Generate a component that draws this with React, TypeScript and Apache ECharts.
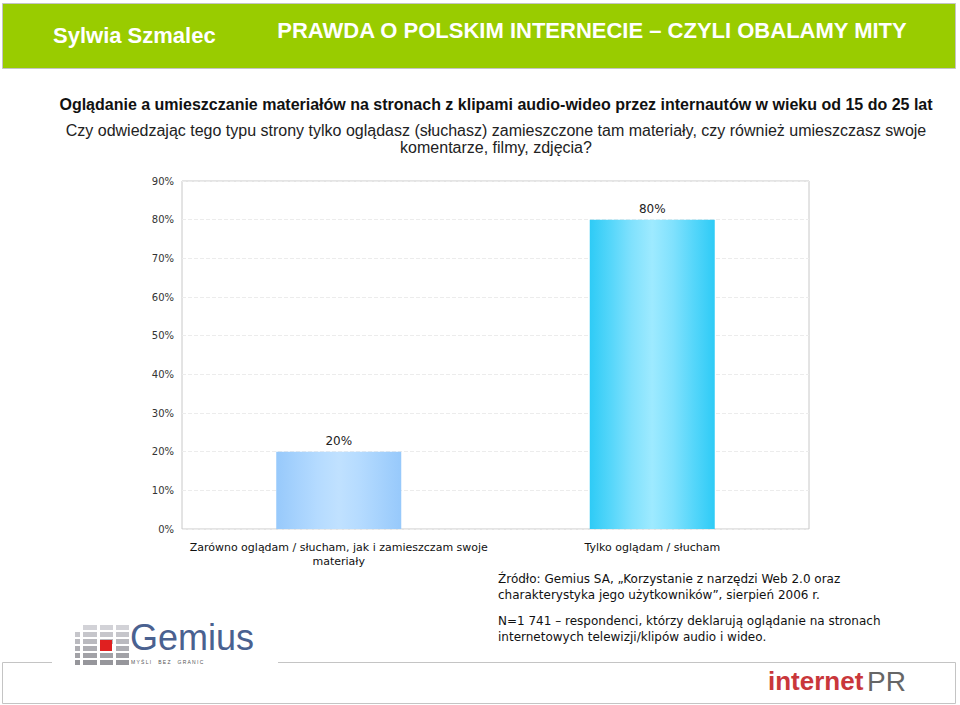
import React, { useEffect, useRef } from "react";
import * as echarts from "echarts";

const categories = [
  "Zarówno oglądam / słucham, jak i zamieszczam swoje\nmateriały",
  "Tylko oglądam / słucham",
];
const values = [20, 80];
const yMin = 0;
const yMax = 90;
const yStep = 10;

const headerLeft = "Sylwia Szmalec";
const headerRight = "PRAWDA O POLSKIM INTERNECIE – CZYLI OBALAMY MITY";
const titleText =
  "Oglądanie a umieszczanie materiałów na stronach z klipami audio-wideo przez internautów w wieku od 15 do 25 lat";
const subtitleLines = [
  "Czy odwiedzając tego typu strony tylko oglądasz (słuchasz) zamieszczone tam materiały, czy również umieszczasz swoje",
  "komentarze, filmy, zdjęcia?",
];
const sourceLines = [
  "Źródło: Gemius SA, „Korzystanie z narzędzi Web 2.0 oraz",
  "charakterystyka jego użytkowników”, sierpień 2006 r.",
];
const noteLines = [
  "N=1 741 – respondenci, którzy deklarują oglądanie na stronach",
  "internetowych telewizji/klipów audio i wideo.",
];

const barGradients = [
  ["#97c9fb", "#a6d2fd", "#b5dbff", "#c0e1ff", "#b5dbff", "#a6d2fd", "#97c9fb"],
  ["#2ecbf6", "#55d6fa", "#80e1fd", "#9eeaff", "#80e1fd", "#55d6fa", "#2ecbf6"],
];

function gradient(cols: string[]) {
  return new echarts.graphic.LinearGradient(
    0,
    0,
    1,
    0,
    cols.map((c, i) => ({ offset: i / (cols.length - 1), color: c }))
  );
}

function gemiusBlocks() {
  const els: any[] = [];
  const cols = [
    { x: 75, w: 5 },
    { x: 83, w: 14 },
    { x: 100, w: 13 },
    { x: 116, w: 13 },
  ];
  const rows = [625, 632, 639, 646, 653, 660];
  rows.forEach((y, ri) => {
    cols.forEach((c, ci) => {
      if (ci === 0 && ri === 0) return;
      if (ci === 2 && ri === 3) return;
      const shade = 150 + Math.round((5 - ri) * 12);
      els.push({
        type: "rect",
        shape: { x: c.x, y, width: c.w, height: 5 },
        style: { fill: `rgb(${shade},${shade},${shade + 5})` },
      });
    });
  });
  els.push({
    type: "rect",
    shape: { x: 100, y: 640, width: 12, height: 11 },
    style: { fill: "#e02020" },
  });
  return els;
}

export default function App() {
  const ref = useRef<HTMLDivElement>(null);
  useEffect(() => {
    if (!ref.current) return;
    const chart = echarts.init(ref.current, undefined, { renderer: "svg" });
    const sans = "Liberation Sans, Arial, sans-serif";
    const verd = "DejaVu Sans, Verdana, sans-serif";
    const txt = (t: string, x: number, y: number, font: string, fill: string, align = "left") => ({
      type: "text",
      x,
      y,
      style: { text: t, fill, font, textAlign: align, textVerticalAlign: "middle" },
    });
    const graphics: any[] = [
      {
        type: "rect",
        shape: { x: 2.5, y: 3.5, width: 953, height: 65 },
        style: { fill: "#99cc00", stroke: "#c4c4c4", lineWidth: 1 },
      },
      txt(headerLeft, 53, 35, `bold 22px ${sans}`, "#ffffff"),
      txt(headerRight, 592, 30, `bold 22px ${sans}`, "#ffffff", "center"),
      txt(titleText, 496, 104, `bold 16px ${sans}`, "#111111", "center"),
      ...subtitleLines.map((t, i) =>
        txt(t, 496, 130 + i * 17, `16px ${sans}`, "#222222", "center")
      ),
      ...sourceLines.map((t, i) => txt(t, 498, 579 + i * 15.5, `12px ${verd}`, "#111111")),
      ...noteLines.map((t, i) => txt(t, 498, 621 + i * 15.5, `12px ${verd}`, "#111111")),
      // bottom frame
      {
        type: "polyline",
        shape: {
          points: [
            [52, 662.5],
            [2.5, 662.5],
            [2.5, 703.5],
            [955.5, 703.5],
            [955.5, 662.5],
            [278, 662.5],
          ],
        },
        style: { stroke: "#c4c4c4", lineWidth: 1, fill: "none" },
      },
      ...gemiusBlocks(),
      txt("Gemius", 130, 637, `36px ${sans}`, "#4a6190"),
      txt("M Y Ś L I     B E Z     G R A N I C", 131, 662, `5px ${sans}`, "#555555"),
      txt("internet", 768, 681, `bold 26px ${sans}`, "#c9373b"),
      txt("PR", 867, 681, `28px ${sans}`, "#666666"),
    ];

    chart.setOption({
      animation: false,
      backgroundColor: "#ffffff",
      textStyle: { fontFamily: verd },
      grid: {
        left: 182,
        right: 151,
        top: 181,
        bottom: 176,
        show: true,
        borderColor: "#c8c8c8",
        borderWidth: 1,
        containLabel: false,
      },
      xAxis: {
        type: "category",
        data: categories,
        axisLine: { show: false },
        axisTick: { show: false },
        axisLabel: {
          interval: 0,
          fontSize: 11,
          color: "#111111",
          fontFamily: verd,
          margin: 11,
          lineHeight: 14,
        },
      },
      yAxis: {
        type: "value",
        min: yMin,
        max: yMax,
        interval: yStep,
        axisLine: { show: false },
        axisTick: { show: false },
        axisLabel: {
          formatter: "{value}%",
          fontSize: 10,
          color: "#333333",
          fontFamily: verd,
          margin: 8,
        },
        splitLine: {
          show: true,
          lineStyle: { type: "dashed", color: "#ececec", width: 1 },
        },
      },
      series: [
        {
          type: "bar",
          barWidth: 125,
          data: values.map((v, i) => ({
            value: v,
            itemStyle: { color: gradient(barGradients[i]) },
          })),
          label: {
            show: true,
            position: "top",
            distance: 5,
            formatter: "{c}%",
            fontSize: 12,
            color: "#222222",
            fontFamily: verd,
          },
        },
      ],
      graphic: graphics,
    });
    return () => chart.dispose();
  }, []);
  return (
    <div
      ref={ref}
      style={{ position: "fixed", left: 0, top: 0, width: 960, height: 705 }}
    />
  );
}
